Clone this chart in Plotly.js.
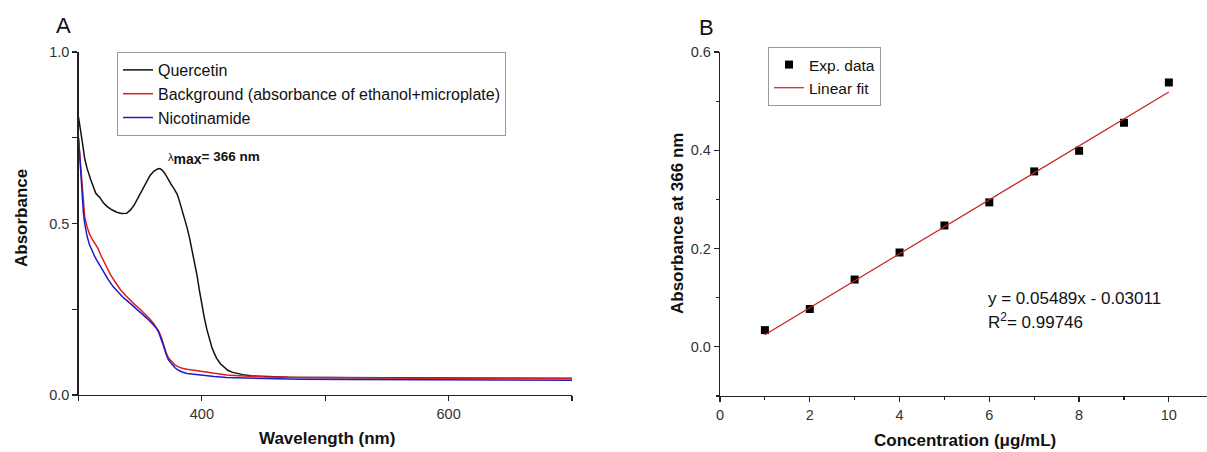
<!DOCTYPE html>
<html>
<head>
<meta charset="utf-8">
<script src="https://cdn.plot.ly/plotly-3.0.1.min.js"></script>
<style>
html,body{margin:0;padding:0;background:#fff;}
#chart{width:1207px;height:452px;}
</style>
</head>
<body>
<div id="chart"></div>
<script>
// ---------- Panel A: UV-Vis spectra ----------
var wlQuercetin = [300,301,302,303,305,307,310,312,314,316,317,318,320,323,327,331,335,339,342,345,348,352,355,358,361,364,366,368,370,372,375,378,380,382,384,386,388,390,392,394,396,398,400,402,404,406,408,410,412,415,418,421,425,430,435,440,450,470,500,550,600,650,700];
var absQuercetin = [0.810,0.790,0.765,0.740,0.690,0.660,0.627,0.605,0.588,0.580,0.578,0.572,0.561,0.550,0.540,0.533,0.529,0.530,0.539,0.553,0.573,0.600,0.620,0.640,0.652,0.659,0.660,0.655,0.646,0.632,0.615,0.598,0.585,0.563,0.540,0.515,0.488,0.458,0.425,0.390,0.350,0.305,0.262,0.225,0.192,0.163,0.140,0.122,0.107,0.091,0.080,0.072,0.066,0.061,0.058,0.056,0.054,0.052,0.051,0.050,0.049,0.048,0.048];

var wlBackground = [300,301,302,303,304,305,307,309,311,313,315,316,318,320,323,326,330,334,338,342,346,350,354,358,361,363,365,367,369,371,373,375,378,381,384,388,392,396,400,410,420,430,450,480,520,560,600,650,700];
var absBackground = [0.750,0.700,0.640,0.590,0.550,0.520,0.490,0.468,0.455,0.443,0.432,0.426,0.408,0.394,0.373,0.350,0.328,0.307,0.291,0.276,0.262,0.250,0.236,0.221,0.208,0.198,0.186,0.170,0.146,0.124,0.108,0.099,0.088,0.082,0.078,0.075,0.073,0.070,0.067,0.062,0.058,0.056,0.053,0.051,0.050,0.050,0.049,0.049,0.049];

var wlNicotinamide = [300,301,302,303,304,305,307,309,311,313,315,318,321,324,328,332,336,340,344,348,352,356,360,363,365,367,369,371,373,375,378,381,384,388,392,396,400,410,420,430,450,480,520,560,600,650,700];
var absNicotinamide = [0.750,0.690,0.620,0.575,0.530,0.500,0.462,0.437,0.420,0.405,0.392,0.373,0.355,0.337,0.316,0.300,0.285,0.273,0.260,0.249,0.236,0.222,0.207,0.195,0.183,0.165,0.142,0.119,0.102,0.093,0.080,0.072,0.067,0.063,0.061,0.059,0.057,0.054,0.051,0.050,0.048,0.046,0.045,0.045,0.044,0.044,0.043];

// ---------- Panel B: calibration ----------
var concentration = [1,2,3,4,5,6,7,8,9,10];
var absorbance366 = [0.034,0.077,0.137,0.192,0.247,0.294,0.357,0.399,0.456,0.538];
var fitX = [1,10];
var fitY = [0.0248,0.5188];

var FONT = "Liberation Sans, Arial, sans-serif";
var W = 1207, H = 452;
function px(x){return x/W;}
function py(y){return 1 - y/H;}

var traces = [
  {x: wlQuercetin, y: absQuercetin, type:"scatter", mode:"lines", name:"Quercetin",
   line:{color:"#111111", width:1.5}, xaxis:"x", yaxis:"y", legend:"legend"},
  {x: wlBackground, y: absBackground, type:"scatter", mode:"lines", name:"Background (absorbance of ethanol+microplate)",
   line:{color:"#dd1c1c", width:1.5}, xaxis:"x", yaxis:"y", legend:"legend"},
  {x: wlNicotinamide, y: absNicotinamide, type:"scatter", mode:"lines", name:"Nicotinamide",
   line:{color:"#1c1cc8", width:1.5}, xaxis:"x", yaxis:"y", legend:"legend"},
  {x: concentration, y: absorbance366, type:"scatter", mode:"markers", name:"Exp. data",
   marker:{symbol:"square", size:8, color:"#000000"}, xaxis:"x2", yaxis:"y2", legend:"legend2"},
  {x: fitX, y: fitY, type:"scatter", mode:"lines", name:"Linear fit",
   line:{color:"#c82020", width:1.2}, xaxis:"x2", yaxis:"y2", legend:"legend2"}
];

var axisCommon = {
  showline:true, linecolor:"#222", linewidth:1.2, showgrid:false, zeroline:false,
  ticks:"outside", ticklen:5, tickwidth:1.2, tickcolor:"#222",
  tickfont:{family:FONT, size:14.5, color:"#333"}, fixedrange:true
};

function merge(a,b){var o={};for(var k in a)o[k]=a[k];for(var k2 in b)o[k2]=b[k2];return o;}

var layout = {
  width:W, height:H,
  margin:{l:0,r:0,t:0,b:0},
  paper_bgcolor:"#fff", plot_bgcolor:"#fff",
  showlegend:true,
  xaxis: merge(axisCommon, {domain:[px(78.5), px(572)], range:[300,700], anchor:"y",
    tick0:400, dtick:200, minor:{tick0:300, dtick:100, ticks:"outside", ticklen:5, tickcolor:"#222", tickwidth:1.2}}),
  yaxis: merge(axisCommon, {domain:[py(395), py(52)], range:[0,1.0], anchor:"x",
    tick0:0, dtick:0.5, tickformat:".1f", minor:{dtick:0.25, ticks:"outside", ticklen:5, tickcolor:"#222", tickwidth:1.2}}),
  xaxis2: merge(axisCommon, {domain:[px(720), 1], range:[0,10.85], anchor:"y2",
    tick0:0, dtick:2, minor:{dtick:1, ticks:"outside", ticklen:3, tickcolor:"#222", tickwidth:1.2}}),
  yaxis2: merge(axisCommon, {domain:[py(396), py(52)], range:[-0.1,0.6], anchor:"x2",
    tick0:0, dtick:0.2, tickformat:".1f", minor:{dtick:0.1, ticks:"outside", ticklen:3, tickcolor:"#222", tickwidth:1.2}}),
  legend:{x:px(117), y:py(52), xanchor:"left", yanchor:"top", bgcolor:"#fff",
    bordercolor:"#999", borderwidth:1, font:{family:FONT, size:16, color:"#111"}, tracegroupgap:0},
  legend2:{x:px(768), y:py(47), xanchor:"left", yanchor:"top", bgcolor:"#fff",
    bordercolor:"#999", borderwidth:1, font:{family:FONT, size:15.5, color:"#111"}, tracegroupgap:0},
  annotations:[
    {text:"A", x:px(63), y:py(25), xref:"paper", yref:"paper", showarrow:false, xanchor:"center", yanchor:"middle",
     font:{family:FONT, size:22, color:"#111"}},
    {text:"B", x:px(706), y:py(27), xref:"paper", yref:"paper", showarrow:false, xanchor:"center", yanchor:"middle",
     font:{family:FONT, size:22, color:"#111"}},
    {text:"<span style='font-size:11px'>λ</span><sub><span style='font-size:14px'><b>max</b></span></sub><b>= 366 nm</b>",
     x:px(166), y:py(158), xref:"paper", yref:"paper", showarrow:false,
     xanchor:"left", yanchor:"middle", font:{family:FONT, size:13.5, color:"#111"}},
    {text:"<b>Absorbance</b>", x:px(21), y:py(218), xref:"paper", yref:"paper", showarrow:false, textangle:-90,
     xanchor:"center", yanchor:"middle", font:{family:FONT, size:17, color:"#111"}},
    {text:"<b>Wavelength (nm)</b>", x:px(327), y:py(438), xref:"paper", yref:"paper", showarrow:false,
     xanchor:"center", yanchor:"middle", font:{family:FONT, size:17, color:"#111"}},
    {text:"<b>Absorbance at 366 nm</b>", x:px(677), y:py(224), xref:"paper", yref:"paper", showarrow:false, textangle:-90,
     xanchor:"center", yanchor:"middle", font:{family:FONT, size:17, color:"#111"}},
    {text:"<b>Concentration (μg/mL)</b>", x:px(965), y:py(440), xref:"paper", yref:"paper", showarrow:false,
     xanchor:"center", yanchor:"middle", font:{family:FONT, size:17, color:"#111"}},
    {text:"y = 0.05489x - 0.03011", x:px(986), y:py(298), xref:"paper", yref:"paper", showarrow:false,
     xanchor:"left", yanchor:"middle", font:{family:FONT, size:17, color:"#111"}},
    {text:"R<sup>2</sup>= 0.99746", x:px(986), y:py(321), xref:"paper", yref:"paper", showarrow:false,
     xanchor:"left", yanchor:"middle", font:{family:FONT, size:17, color:"#111"}}
  ]
};

Plotly.newPlot("chart", traces, layout, {displayModeBar:false, staticPlot:true});
</script>
</body>
</html>
